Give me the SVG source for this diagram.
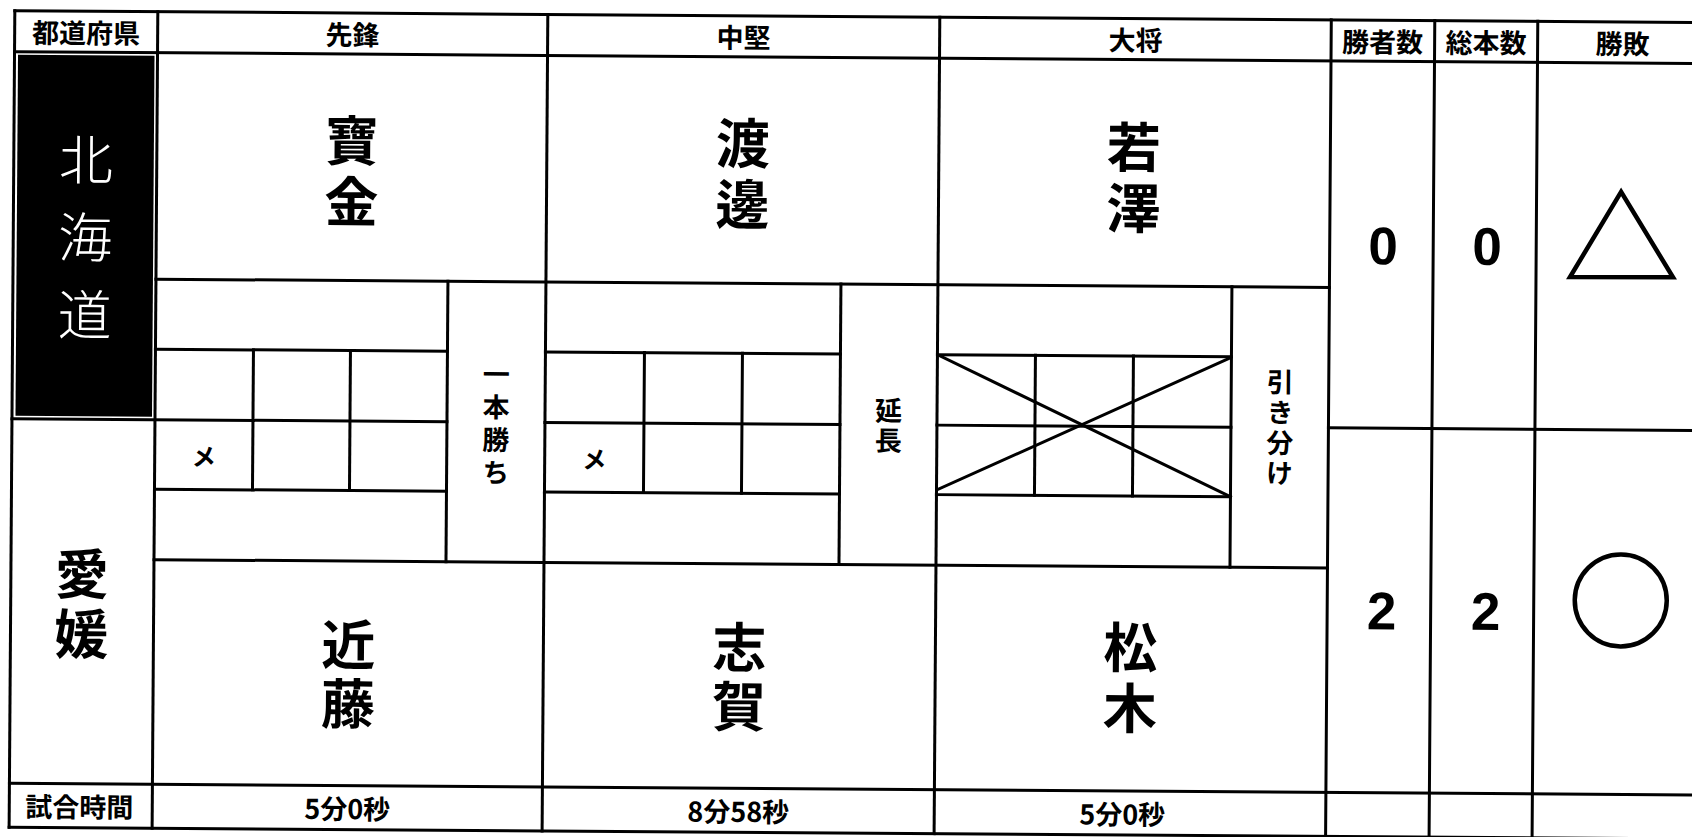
<svg xmlns="http://www.w3.org/2000/svg" width="1692" height="837" viewBox="0 0 1692 837">
<style>
  .ln { stroke: #000; stroke-width: 3; fill: none; stroke-linecap: square; }
  .jp { font-family: "Noto Sans CJK JP", "Noto Sans CJK SC", sans-serif; fill: #000; text-anchor: middle; dominant-baseline: central; }
  .v { writing-mode: vertical-rl; }
  .hd { font-size: 27px; font-weight: 700; }
  .nm { font-size: 54px; font-weight: 700; }
  .pref { font-size: 54px; font-weight: 300; fill: #fff; }
  .side { font-size: 27px; font-weight: 700; }
  .mk { font-size: 24px; font-weight: 700; }
  .num { font-family: "Liberation Sans", Arial, sans-serif; font-size: 53px; font-weight: 700; fill: #000; text-anchor: middle; dominant-baseline: central; }
  .sym { fill: none; stroke: #000; stroke-width: 4.5; }
</style>
<rect x="0" y="0" width="1692" height="837" fill="#fff"/>
<g id="table" transform="rotate(0.4 846 418)">
  <g id="connectors">
    <line class="ln" x1="12" y1="16.5" x2="1720" y2="16.5"/>
    <line class="ln" x1="12" y1="57.5" x2="1720" y2="57.5"/>
    <line class="ln" x1="155" y1="284" x2="1328.5" y2="284"/>
    <line class="ln" x1="12" y1="424.5" x2="447" y2="424.5"/>
    <line class="ln" x1="545" y1="424.5" x2="840" y2="424.5"/>
    <line class="ln" x1="937" y1="424.5" x2="1231" y2="424.5"/>
    <line class="ln" x1="1328.5" y1="424.5" x2="1720" y2="424.5"/>
    <line class="ln" x1="155" y1="354" x2="447" y2="354"/>
    <line class="ln" x1="545" y1="354" x2="840" y2="354"/>
    <line class="ln" x1="937" y1="354" x2="1231" y2="354"/>
    <line class="ln" x1="155" y1="494" x2="447" y2="494"/>
    <line class="ln" x1="545" y1="494" x2="840" y2="494"/>
    <line class="ln" x1="937" y1="494" x2="1231" y2="494"/>
    <line class="ln" x1="155" y1="564.5" x2="1328.5" y2="564.5"/>
    <line class="ln" x1="12" y1="789" x2="1720" y2="789"/>
    <line class="ln" x1="12" y1="833" x2="1720" y2="833"/>
    <line class="ln" x1="12" y1="16.5" x2="12" y2="833"/>
    <line class="ln" x1="155" y1="16.5" x2="155" y2="833"/>
    <line class="ln" x1="545" y1="16.5" x2="545" y2="833"/>
    <line class="ln" x1="937" y1="16.5" x2="937" y2="833"/>
    <line class="ln" x1="1328.5" y1="16.5" x2="1328.5" y2="860"/>
    <line class="ln" x1="1432" y1="16.5" x2="1432" y2="860"/>
    <line class="ln" x1="1535" y1="16.5" x2="1535" y2="860"/>
    <line class="ln" x1="253" y1="354" x2="253" y2="494"/>
    <line class="ln" x1="350" y1="354" x2="350" y2="494"/>
    <line class="ln" x1="447" y1="284" x2="447" y2="564.5"/>
    <line class="ln" x1="644" y1="354" x2="644" y2="494"/>
    <line class="ln" x1="742" y1="354" x2="742" y2="494"/>
    <line class="ln" x1="840" y1="284" x2="840" y2="564.5"/>
    <line class="ln" x1="1035" y1="354" x2="1035" y2="494"/>
    <line class="ln" x1="1133" y1="354" x2="1133" y2="494"/>
    <line class="ln" x1="1231" y1="284" x2="1231" y2="564.5"/>
    <line class="ln" x1="939" y1="355" x2="1231" y2="494"/>
    <line class="ln" x1="938" y1="489" x2="1230" y2="355"/>
  </g>

  <g id="header">
    <text class="jp hd" x="83.5" y="37">都道府県</text>
    <text class="jp hd" x="350" y="37">先鋒</text>
    <text class="jp hd" x="741" y="37">中堅</text>
    <text class="jp hd" x="1133" y="37">大将</text>
    <text class="jp hd" x="1380" y="37">勝者数</text>
    <text class="jp hd" x="1483.5" y="37">総本数</text>
    <text class="jp hd" x="1620" y="37">勝敗</text>
  </g>

  <g id="pref-hokkaido">
    <rect x="15.5" y="60.5" width="136.5" height="361" fill="#000"/>
    <text class="jp v pref" x="84" y="254" letter-spacing="23.5">北海道</text>
  </g>
  <g id="pref-ehime">
    <text class="jp v nm" x="83" y="612" letter-spacing="6">愛媛</text>
  </g>

  <g id="names-top">
    <text class="jp v nm" x="350" y="178" letter-spacing="7">寶金</text>
    <text class="jp v nm" x="741" y="178" letter-spacing="7">渡邊</text>
    <text class="jp v nm" x="1132" y="179" letter-spacing="7">若澤</text>
  </g>
  <g id="names-bottom">
    <text class="jp v nm" x="350" y="680" letter-spacing="5">近藤</text>
    <text class="jp v nm" x="741" y="680" letter-spacing="5">志賀</text>
    <text class="jp v nm" x="1132" y="679" letter-spacing="7">松木</text>
  </g>

  <g id="results">
    <text class="jp v side" x="496" y="428.5" letter-spacing="5.7">一本勝ち</text>
    <text class="jp v side" x="888.5" y="426.5" letter-spacing="3">延長</text>
    <text class="jp v side" x="1280" y="426" letter-spacing="3.3">引き分け</text>
    <text class="jp mk" x="204" y="459.5">メ</text>
    <text class="jp mk" x="594.5" y="459.5">メ</text>
  </g>

  <g id="scores">
    <text class="num" x="1382" y="242">0</text>
    <text class="num" x="1486" y="242">0</text>
    <text class="num" x="1383" y="607">2</text>
    <text class="num" x="1487" y="607">2</text>
    <polygon class="sym" points="1619.5,186.5 1569,272 1672,271.5"/>
    <circle class="sym" cx="1622" cy="595" r="46"/>
  </g>

  <g id="times">
    <text class="jp hd" x="82" y="811">試合時間</text>
    <text class="jp hd" x="350" y="811">5分0秒</text>
    <text class="jp hd" x="741" y="811">8分58秒</text>
    <text class="jp hd" x="1125" y="811">5分0秒</text>
  </g>
</g>
</svg>
